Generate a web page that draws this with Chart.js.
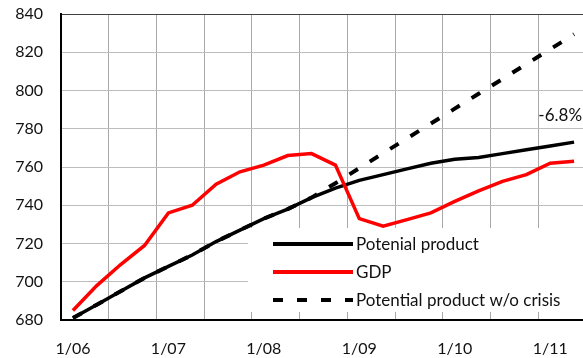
<!DOCTYPE html>
<html>
<head>
<meta charset="utf-8">
<script src="https://cdn.jsdelivr.net/npm/chart.js@4/dist/chart.umd.min.js"></script>
<style>
 html, body { margin: 0; padding: 0; background: #fff; overflow: hidden; }
 #wrap { width: 583px; height: 358px; overflow: hidden; }
</style>
</head>
<body>
<div id="wrap"><canvas id="gap" width="590" height="358"></canvas></div>
<script>
// quarters, Q1 2006 .. Q2 2011
var quarters = ['1/06', '4/06', '7/06', '10/06', '1/07', '4/07', '7/07', '10/07',
 '1/08', '4/08', '7/08', '10/08', '1/09', '4/09', '7/09', '10/09',
 '1/10', '4/10', '7/10', '10/10', '1/11', '4/11'];

var potential = [681, 688, 695, 702, 708, 714, 721, 727, 733, 738, 744,
 749, 753, 756, 759, 762, 764, 765, 767, 769, 771, 773];

var gdp = [685, 698, 709, 719, 736, 740, 751, 757.5, 761, 766, 767,
 761, 733, 729, 732.5, 736, 742, 747.5, 752.5, 756, 762, 763];

var potentialNoCrisis = [681, 688, 695, 702, 708, 714, 721, 727, 733, 738, 744,
 751.5, 759.4, 767.2, 775, 782.7, 790.5, 798.3, 806, 813.8, 821.6, 829.4];

var seriesNames = ['Potenial product', 'GDP', 'Potential product w/o crisis'];
var gapLabel = '-6.8%';

var fontName = 'Lato, "Open Sans", sans-serif';

// legend drawn inside the plot on a white box
var boxLegend = {
 id: 'boxLegend',
 beforeDatasetsDraw: function(chart) {
  var ctx = chart.ctx;
  ctx.save();
  ctx.fillStyle = '#fff';
  ctx.fillRect(248, 228, 345, 84);
  var rows = [244, 272, 300];
  chart.data.datasets.forEach(function(ds, i) {
   ctx.beginPath();
   ctx.strokeStyle = ds.borderColor;
   ctx.lineWidth = 4;
   ctx.setLineDash(ds.borderDash || []);
   ctx.moveTo(273, rows[i]);
   ctx.lineTo(353, rows[i]);
   ctx.stroke();
   ctx.setLineDash([]);
   ctx.fillStyle = '#111';
   ctx.font = '17px ' + fontName;
   ctx.textBaseline = 'middle';
   ctx.fillText(ds.label, 356, rows[i] + 1);
  });
  ctx.restore();
 },
 afterDatasetsDraw: function(chart) {
  var ctx = chart.ctx;
  var x = chart.scales.x.getPixelForValue(20);
  var y = chart.scales.y.getPixelForValue(787);
  ctx.save();
  ctx.fillStyle = '#111';
  ctx.font = '17px ' + fontName;
  ctx.textAlign = 'center';
  ctx.textBaseline = 'middle';
  ctx.fillText(gapLabel, x + 10, y);
  ctx.restore();
 }
};

new Chart(document.getElementById('gap').getContext('2d'), {
 type: 'line',
 data: {
  labels: quarters,
  datasets: [{
   label: seriesNames[0],
   data: potential,
   borderColor: '#000',
   borderWidth: 3.5,
   order: 3
  }, {
   label: seriesNames[1],
   data: gdp,
   borderColor: '#ff0000',
   borderWidth: 3.5,
   order: 2
  }, {
   label: seriesNames[2],
   data: potentialNoCrisis,
   borderColor: '#000',
   borderWidth: 4,
   borderDash: [10, 14],
   order: 1
  }]
 },
 options: {
  responsive: false,
  animation: false,
  layout: { padding: { top: 14, right: 4, left: 0, bottom: 0 } },
  elements: {
   point: { radius: 0 },
   line: { tension: 0, borderCapStyle: 'butt' }
  },
  plugins: {
   legend: { display: false },
   tooltip: { enabled: false }
  },
  scales: {
   x: {
    offset: true,
    grid: {
     offset: true,
     drawTicks: false,
     lineWidth: 1,
     color: function(c) { return c.index % 2 === 0 ? '#a8a8a8' : 'rgba(0,0,0,0)'; }
    },
    border: { color: '#000', width: 2 },
    ticks: {
     autoSkip: false,
     maxRotation: 0,
     padding: 19,
     color: '#111',
     font: { family: fontName, size: 16 },
     callback: function(v, i) {
      var s = this.getLabelForValue(v);
      return s.indexOf('1/') === 0 ? s : '';
     }
    },
    afterFit: function(s) { s.height = 38; s.paddingLeft = 0; s.paddingRight = 0; }
   },
   y: {
    min: 680,
    max: 840,
    grid: {
     drawTicks: false,
     lineWidth: 1,
     color: function(c) { return c.tick && c.tick.value === 840 ? '#404040' : '#bdbdbd'; }
    },
    border: { color: '#000', width: 2 },
    ticks: {
     stepSize: 20,
     padding: 18,
     color: '#111',
     font: { family: fontName, size: 16 }
    },
    afterFit: function(s) { s.width = 61; s.paddingTop = 0; s.paddingBottom = 0; }
   }
  }
 },
 plugins: [boxLegend]
});
</script>
</body>
</html>
